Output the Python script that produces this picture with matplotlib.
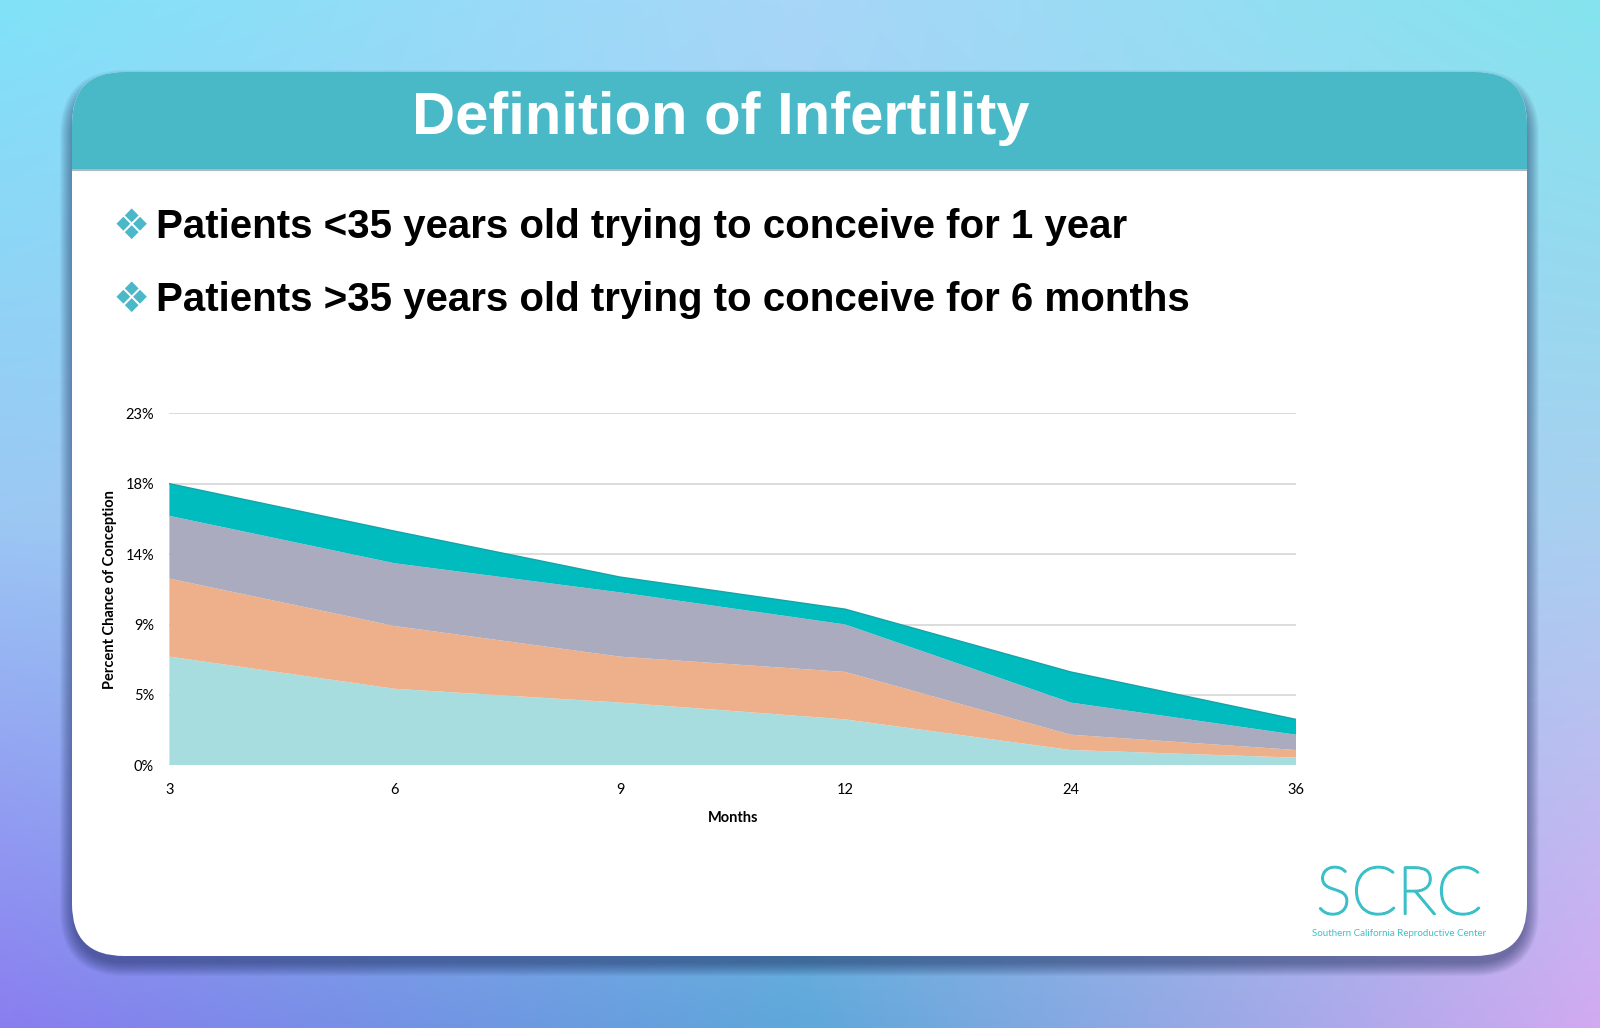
import numpy as np
import matplotlib.pyplot as plt
import matplotlib.patheffects as pe
from matplotlib.patches import FancyBboxPatch, Rectangle
from matplotlib.colors import to_rgb

# Chart data (percent chance of conception, stacked layers)
months = ['3', '6', '9', '12', '24', '36']
layer_1 = [7.1, 5.0, 4.1, 3.0, 1.0, 0.5]
layer_2 = [5.1, 4.1, 3.0, 3.1, 1.0, 0.5]
layer_3 = [4.1, 4.1, 4.2, 3.1, 2.1, 1.0]
layer_4 = [2.1, 2.1, 1.0, 1.0, 2.0, 1.0]
layer_colors = ['#a8dde0', '#eeb08a', '#aaabbe', '#00bcbf']

ytick_vals = [0, 4.6, 9.2, 13.8, 18.4, 23.0]
ytick_labels = ['0%', '5%', '9%', '14%', '18%', '23%']

title = 'Definition of Infertility'
bullets = ['Patients <35 years old trying to conceive for 1 year',
           'Patients >35 years old trying to conceive for 6 months']

W, H = 1600, 1028
fig = plt.figure(figsize=(W / 100, H / 100), dpi=100)

# background gradient + card drawn in pixel coordinates
bg = fig.add_axes([0, 0, 1, 1])
bg.set_xlim(0, W)
bg.set_ylim(H, 0)
bg.axis('off')

grid = np.array([
    [to_rgb('#80e2f8'), to_rgb('#a8d6f8'), to_rgb('#84e4ee')],
    [to_rgb('#9cc8f4'), to_rgb('#9cd0f0'), to_rgb('#a8d0f0')],
    [to_rgb('#8a7ef0'), to_rgb('#5ea8da'), to_rgb('#d2aaf2')],
])
ny, nx = 200, 300
yy = np.linspace(0, 2, ny)[:, None]
xx = np.linspace(0, 2, nx)[None, :]
img = np.zeros((ny, nx, 3))
for c in range(3):
    g = grid[:, :, c]
    i0 = np.clip(np.floor(yy).astype(int), 0, 1)
    j0 = np.clip(np.floor(xx).astype(int), 0, 1)
    fy = yy - i0
    fx = xx - j0
    img[:, :, c] = (g[i0, j0] * (1 - fy) * (1 - fx) + g[i0 + 1, j0] * fy * (1 - fx)
                    + g[i0, j0 + 1] * (1 - fy) * fx + g[i0 + 1, j0 + 1] * fy * fx)
bg.imshow(img, extent=[0, W, H, 0], aspect='auto', interpolation='bilinear', zorder=0)

cx0, cy0, cx1, cy1 = 72, 72, 1527, 956
rad = 52
# soft shadow
for k in range(14, 0, -1):
    bg.add_patch(FancyBboxPatch((cx0 - k + 2, cy0 - k + 12), cx1 - cx0 + 2 * k - 4, cy1 - cy0 + 2 * k - 6,
                                boxstyle=f'round,pad=0,rounding_size={rad + k}',
                                fc='#1a2a5a', ec='none', alpha=0.045, zorder=1))
bg.add_patch(FancyBboxPatch((cx0, cy0), cx1 - cx0, cy1 - cy0,
                            boxstyle=f'round,pad=0,rounding_size={rad}',
                            fc='white', ec='none', zorder=2))
bg.add_patch(FancyBboxPatch((cx0, cy0), cx1 - cx0, 170,
                            boxstyle=f'round,pad=0,rounding_size={rad}',
                            fc='#49b8c7', ec='none', zorder=3))
bg.add_patch(Rectangle((cx0, 169), cx1 - cx0, 100, fc='white', ec='none', zorder=4))
bg.plot([cx0, cx1], [170, 170], color='#7a8a90', lw=1.5, alpha=0.6, zorder=5)

bg.text(721, 119, title, color='white', fontsize=43, fontweight='bold',
        family='Liberation Sans', ha='center', va='center', zorder=6)
for i, b in enumerate(bullets):
    y = 227 + i * 73
    bg.text(131, y, '\u2756', color='#4ab8c7', fontsize=30, family='DejaVu Sans',
            ha='center', va='center', zorder=6)
    bg.text(156, y, b, color='black', fontsize=29, fontweight='bold',
            family='Liberation Sans', ha='left', va='center', zorder=6)

logo = bg.text(1399, 914, 'SCRC', color='#3cc0c8', fontsize=48, fontweight='light',
               family='Lato', ha='center', va='baseline', zorder=6)
logo.set_path_effects([pe.withStroke(linewidth=1.6, foreground='#3cc0c8')])
bg.text(1399, 933, 'Southern California Reproductive Center', color='#3cc0c8', fontsize=7,
        family='Lato', ha='center', va='center', zorder=6)

# the chart
ax = fig.add_axes([169.4 / W, 1 - 765.3 / H, (1296 - 169.4) / W, (765.3 - 413.3) / H])
ax.set_facecolor('none')
x = np.arange(len(months))
ax.stackplot(x, layer_1, layer_2, layer_3, layer_4, colors=layer_colors, lw=0, zorder=3)
top = np.array(layer_1) + np.array(layer_2) + np.array(layer_3) + np.array(layer_4)
ax.plot(x, top, color='#16a3a8', lw=1, zorder=4)
ax.set_xlim(0, len(months) - 1)
ax.set_ylim(0, 23)
ax.set_yticks(ytick_vals)
ax.set_yticklabels(ytick_labels)
ax.set_xticks(x)
ax.set_xticklabels(months)
ax.grid(axis='y', color='#d9d9d9', lw=1.3, zorder=1)
ax.set_axisbelow(True)
for s in ax.spines.values():
    s.set_visible(False)
ax.tick_params(axis='y', length=0, labelsize=10.5, pad=11)
ax.tick_params(axis='x', length=0, labelsize=10.5, pad=13)
for lab in ax.get_xticklabels() + ax.get_yticklabels():
    lab.set_family('Lato')

fig.text(733 / W, 1 - 818 / H, 'Months', fontsize=10.5, fontweight='bold', family='Lato',
         ha='center', va='center')
fig.text(110 / W, 1 - 590 / H, 'Percent Chance of Conception', fontsize=10.5, fontweight='bold',
         family='Lato', ha='center', va='center', rotation=90)

fig.savefig('out.png', dpi=100)
